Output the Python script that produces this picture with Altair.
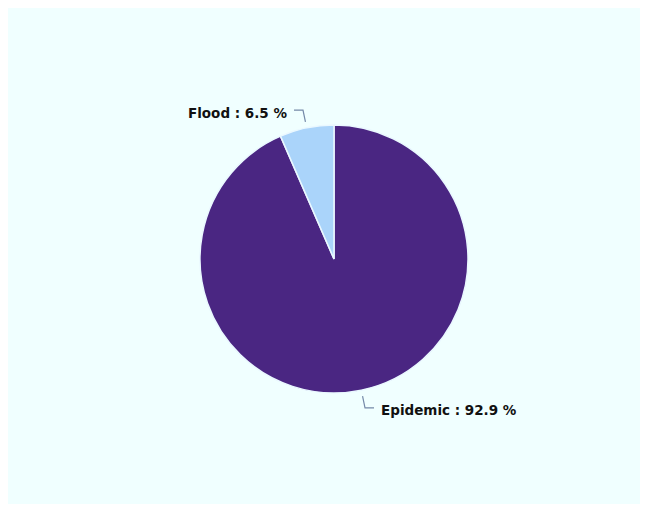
import altair as alt
import pandas as pd
import numpy as np

categories = ["Epidemic", "Flood"]
percents = [92.9, 6.5]
colors = ["#4a2682", "#aad4fa"]

W, H = 632, 496
CX, CY = 326, 251
R = 134
R1, R2 = 140, 152
HOOK = 9
GAP = 7

df = pd.DataFrame({"category": categories, "value": percents, "order": range(len(categories))})
df["label"] = [f"{c} : {v} %" for c, v in zip(categories, percents)]

# leader line geometry derived from the data's angles
total = sum(percents)
cum = np.cumsum([0] + percents)
rows = []
texts = []
for i, c in enumerate(categories):
    mid = (cum[i] + cum[i + 1]) / 2 / total * 2 * np.pi
    s, co = np.sin(mid), np.cos(mid)
    side = 1 if s >= 0 else -1
    p1 = (CX + R1 * s, CY - R1 * co)
    p2 = (CX + R2 * s, CY - R2 * co)
    p3 = (p2[0] + side * HOOK, p2[1])
    for k, p in enumerate([p1, p2, p3]):
        rows.append({"category": c, "k": k, "px": p[0], "py": p[1]})
    texts.append({"category": c, "label": df["label"][i], "px": p3[0] + side * GAP,
                  "py": p3[1], "side": "right" if side > 0 else "left"})
lines = pd.DataFrame(rows)
tdf = pd.DataFrame(texts)

xs = alt.Scale(domain=[0, W])
ys = alt.Scale(domain=[0, H], reverse=True)

pie = alt.Chart(df).mark_arc(outerRadius=R, stroke="#eaf8ff", strokeWidth=1.5).encode(
    theta=alt.Theta("value:Q", stack=True),
    order=alt.Order("order:Q"),
    color=alt.Color("category:N", scale=alt.Scale(domain=categories, range=colors), legend=None),
    x=alt.value(CX),
    y=alt.value(CY),
)

leader = alt.Chart(lines).mark_line(color="#7489a8", strokeWidth=1.2).encode(
    x=alt.X("px:Q", scale=xs, axis=None),
    y=alt.Y("py:Q", scale=ys, axis=None),
    detail="category:N",
    order="k:Q",
)

txt_style = dict(font="DejaVu Sans", fontSize=13.5, fontWeight="bold", color="#111111", baseline="middle", dy=3.5)
text_r = alt.Chart(tdf).transform_filter(alt.datum.side == "right").mark_text(align="left", **txt_style).encode(
    x=alt.X("px:Q", scale=xs, axis=None),
    y=alt.Y("py:Q", scale=ys, axis=None),
    text="label:N",
)
text_l = alt.Chart(tdf).transform_filter(alt.datum.side == "left").mark_text(align="right", **txt_style).encode(
    x=alt.X("px:Q", scale=xs, axis=None),
    y=alt.Y("py:Q", scale=ys, axis=None),
    text="label:N",
)

chart = alt.layer(pie, leader, text_l, text_r).properties(
    width=W, height=H, padding=0, autosize=alt.AutoSizeParams(type="none"), background="#f0ffff"
).configure_view(stroke=None)

chart.save("out.html", embed_options={"renderer": "svg", "actions": False})
